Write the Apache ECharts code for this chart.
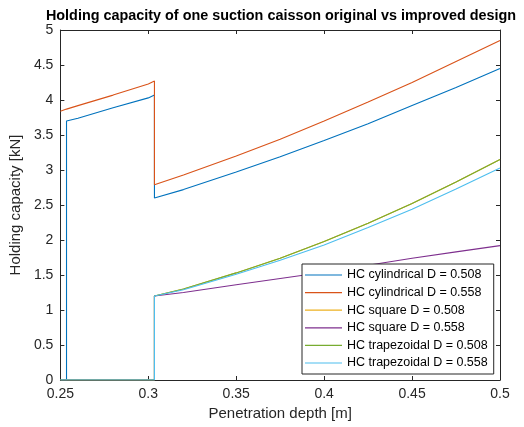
<!DOCTYPE html>
<html><head><meta charset="utf-8">
<script src="https://cdn.jsdelivr.net/npm/echarts@6/dist/echarts.min.js"></script>
<style>html,body{margin:0;padding:0;background:#fff}#c{width:524px;height:427px}</style>
</head><body><div id="c"></div>
<script>
const titleText = 'Holding capacity of one suction caisson original vs improved design';
const xName = 'Penetration depth [m]';
const yName = 'Holding capacity [kN]';
const xTicks = [0.25, 0.3, 0.35, 0.4, 0.45, 0.5];
const yTicks = [0, 0.5, 1, 1.5, 2, 2.5, 3, 3.5, 4, 4.5, 5];
const seriesNames = ['HC cylindrical D = 0.508','HC cylindrical D = 0.558','HC square D = 0.508','HC square D = 0.558','HC trapezoidal D = 0.508','HC trapezoidal D = 0.558'];
const seriesColors = ['#0072BD','#D95319','#EDB120','#7E2F8E','#77AC30','#4DBEEE'];
const depth =        [0.25, 0.2535, 0.2535, 0.26, 0.28, 0.30, 0.3035, 0.3035, 0.32, 0.35, 0.375, 0.40, 0.425, 0.45, 0.475, 0.50];
const cyl508 =       [0,    0,      3.70,   3.74, 3.89, 4.03, 4.07,   2.60,   2.72, 2.97, 3.19,  3.42, 3.66,  3.92, 4.18,  4.45];
const cyl558 =       [3.84, 3.87,   3.87,   3.92, 4.07, 4.23, 4.27,   2.79,   2.93, 3.20, 3.44,  3.70, 3.97,  4.25, 4.55,  4.85];
const sq508 =        [0,    0,      0,      0,    0,    0,    0,      1.20,   1.30, 1.53, 1.74,  1.98, 2.24,  2.52, 2.83,  3.15];
const sq558 =        [0,    0,      0,      0,    0,    0,    0,      1.20,   1.25, 1.36, 1.45,  1.54, 1.64,  1.74, 1.83,  1.92];
const trap508 =      [0,    0,      0,      0,    0,    0,    0,      1.20,   1.30, 1.53, 1.74,  1.98, 2.24,  2.52, 2.83,  3.15];
const trap558 =      [0,    0,      0,      0,    0,    0,    0,      1.20,   1.29, 1.51, 1.71,  1.93, 2.18,  2.44, 2.73,  3.03];
const allValues = [cyl508, cyl558, sq508, sq558, trap508, trap558];

const axisColor = '#262626';
const font = 'Liberation Sans, Arial, sans-serif';
const chart = echarts.init(document.getElementById('c'), null, {renderer:'canvas'});
const baseX = {type:'value', min:0.25, max:0.5, interval:0.05,
  axisLine:{show:true, onZero:false, lineStyle:{color:axisColor,width:1}},
  axisTick:{show:true, inside:true, length:4, lineStyle:{color:axisColor}},
  splitLine:{show:false}};
const baseY = {type:'value', min:0, max:5, interval:0.5,
  axisLine:{show:true, onZero:false, lineStyle:{color:axisColor,width:1}},
  axisTick:{show:true, inside:true, length:4, lineStyle:{color:axisColor}},
  splitLine:{show:false}};
chart.setOption({
  animation:false,
  backgroundColor:'#fff',
  title:{text:titleText, left:276, textAlign:'center', top:4,
    textStyle:{fontFamily:font, fontSize:14.4, fontWeight:'bold', color:'#000'}},
  grid:{left:55, right:24, top:30, bottom:47, containLabel:false},
  xAxis:[
    Object.assign({}, baseX, {position:'bottom', name:xName, nameLocation:'middle', nameGap:22,
      nameTextStyle:{fontFamily:font, fontSize:15, color:axisColor},
      axisLabel:{show:true, margin:7, fontFamily:font, fontSize:14, color:axisColor,
        formatter:v=>String(+v.toFixed(2))}}),
    Object.assign({}, baseX, {position:'top', axisLabel:{show:false}})
  ],
  yAxis:[
    Object.assign({}, baseY, {position:'left', name:yName, nameLocation:'middle', nameGap:33,
      nameTextStyle:{fontFamily:font, fontSize:15, color:axisColor},
      axisLabel:{show:true, margin:7, fontFamily:font, fontSize:14, color:axisColor,
        formatter:v=>String(+v.toFixed(1))}}),
    Object.assign({}, baseY, {position:'right', axisLabel:{show:false}})
  ],
  legend:{orient:'vertical', left:302, top:264, icon:'rect', itemWidth:37, itemHeight:1.2, itemGap:3.6,
    padding:[4,6,4,3], backgroundColor:'#fff', borderColor:axisColor, borderWidth:1, borderRadius:0,
    textStyle:{fontFamily:font, fontSize:12.5, lineHeight:14, color:'#000'},
    data:seriesNames},
  series: allValues.map((vals,i)=>({
    name:seriesNames[i], type:'line', xAxisIndex:0, yAxisIndex:0,
    symbol:'none', showSymbol:false, clip:true,
    lineStyle:{color:seriesColors[i], width:1.1}, itemStyle:{color:seriesColors[i]},
    data: depth.map((d,j)=>[d, vals[j]])
  }))
});
</script></body></html>
